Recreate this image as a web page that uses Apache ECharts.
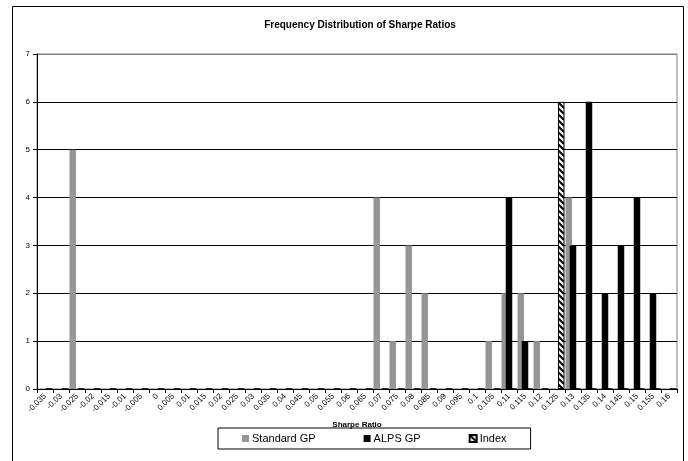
<!DOCTYPE html>
<html>
<head>
<meta charset="utf-8">
<script src="https://cdn.jsdelivr.net/npm/echarts@6/dist/echarts.min.js"></script>
<style>
  html, body { margin: 0; padding: 0; background: #fff; }
  #chart { width: 688px; height: 461px; }
</style>
</head>
<body>
<div id="chart"></div>
<script>
// Sharpe ratio bins (bin labels on the category axis)
var sharpeBins = [
  '-0.035', '-0.03', '-0.025', '-0.02', '-0.015', '-0.01', '-0.005', '0',
  '0.005', '0.01', '0.015', '0.02', '0.025', '0.03', '0.035', '0.04',
  '0.045', '0.05', '0.055', '0.06', '0.065', '0.07', '0.075', '0.08',
  '0.085', '0.09', '0.095', '0.1', '0.105', '0.11', '0.115', '0.12',
  '0.125', '0.13', '0.135', '0.14', '0.145', '0.15', '0.155', '0.16'
];

// Frequency counts per bin
var standardGP = [
  0, 0, 5, 0, 0, 0, 0, 0,
  0, 0, 0, 0, 0, 0, 0, 0,
  0, 0, 0, 0, 0, 4, 1, 3,
  2, 0, 0, 0, 1, 2, 2, 1,
  0, 4, 0, 0, 0, 0, 0, 0
];
var alpsGP = [
  0, 0, 0, 0, 0, 0, 0, 0,
  0, 0, 0, 0, 0, 0, 0, 0,
  0, 0, 0, 0, 0, 0, 0, 0,
  0, 0, 0, 0, 0, 4, 1, 0,
  0, 3, 6, 2, 3, 4, 2, 0
];
var indexSeries = [
  0, 0, 0, 0, 0, 0, 0, 0,
  0, 0, 0, 0, 0, 0, 0, 0,
  0, 0, 0, 0, 0, 0, 0, 0,
  0, 0, 0, 0, 0, 0, 0, 0,
  6, 0, 0, 0, 0, 0, 0, 0
];
var yTicks = [0, 1, 2, 3, 4, 5, 6, 7];

// Wide downward-diagonal hatch used for the Index bars
function makeHatch() {
  var c = document.createElement('canvas');
  c.width = 6; c.height = 6;
  var g = c.getContext('2d');
  g.fillStyle = '#fff';
  g.fillRect(0, 0, 6, 6);
  g.strokeStyle = '#000';
  g.lineWidth = 2;
  for (var o = -12; o <= 12; o += 6) {
    g.beginPath();
    g.moveTo(o, 0);
    g.lineTo(o + 6, 6);
    g.stroke();
  }
  return c;
}
var hatch = { image: makeHatch(), repeat: 'repeat' };

var font = 'Liberation Sans, Arial, sans-serif';
var chart = echarts.init(document.getElementById('chart'), null, { renderer: 'canvas' });

chart.setOption({
  backgroundColor: '#fff',
  animation: false,
  title: {
    text: 'Frequency Distribution of Sharpe Ratios',
    left: 355,
    top: 15,
    textAlign: 'center',
    textStyle: { fontFamily: font, fontSize: 10, fontWeight: 'bold', color: '#000' }
  },
  graphic: [{
    type: 'rect',
    shape: { x: 12.5, y: 6.5, width: 671, height: 470 },
    style: { fill: 'none', stroke: '#000', lineWidth: 1 },
    silent: true
  }],
  legend: {
    left: 218,
    top: 428,
    padding: [5, 24, 5, 24],
    itemGap: 48,
    itemWidth: 7,
    itemHeight: 7,
    borderColor: '#000',
    borderWidth: 1,
    icon: 'rect',
    textStyle: { fontFamily: font, fontSize: 11, color: '#000', padding: [0, 0, 0, -2] },
    data: ['Standard GP', 'ALPS GP', 'Index']
  },
  grid: {
    left: 37, right: 11, top: 54, bottom: 72,
    show: true, borderColor: '#808080', borderWidth: 1
  },
  xAxis: {
    type: 'category',
    data: sharpeBins,
    boundaryGap: true,
    name: 'Sharpe Ratio',
    nameLocation: 'middle',
    nameGap: 24,
    nameTextStyle: { fontFamily: font, fontSize: 8, fontWeight: 'bold', color: '#000' },
    axisLine: { lineStyle: { color: '#000', width: 1 } },
    axisTick: { show: true, length: 4, lineStyle: { color: '#000' } },
    axisLabel: {
      interval: 0, rotate: 45, margin: 6,
      fontFamily: font, fontSize: 8, color: '#000'
    },
    splitLine: { show: false }
  },
  yAxis: {
    type: 'value',
    min: yTicks[0],
    max: yTicks[yTicks.length - 1],
    interval: 1,
    axisLine: { show: true, lineStyle: { color: '#000', width: 1 } },
    axisTick: { show: true, length: 4, lineStyle: { color: '#000' } },
    axisLabel: { margin: 7, fontFamily: font, fontSize: 8, color: '#000' },
    splitLine: {
      show: true,
      lineStyle: { color: ['#000', '#000', '#000', '#000', '#000', '#000', '#000', '#808080'], width: 1 }
    }
  },
  series: [
    {
      name: 'Standard GP',
      type: 'bar',
      data: standardGP,
      barWidth: 6.5,
      barGap: '-35%',
      itemStyle: { color: '#969696' }
    },
    {
      name: 'ALPS GP',
      type: 'bar',
      data: alpsGP,
      barWidth: 6.5,
      barGap: '-35%',
      itemStyle: { color: '#000' }
    },
    {
      name: 'Index',
      type: 'bar',
      data: indexSeries,
      barWidth: 6.5,
      barGap: '-35%',
      itemStyle: { color: hatch, borderColor: '#000', borderWidth: 1 }
    }
  ]
});
</script>
</body>
</html>
